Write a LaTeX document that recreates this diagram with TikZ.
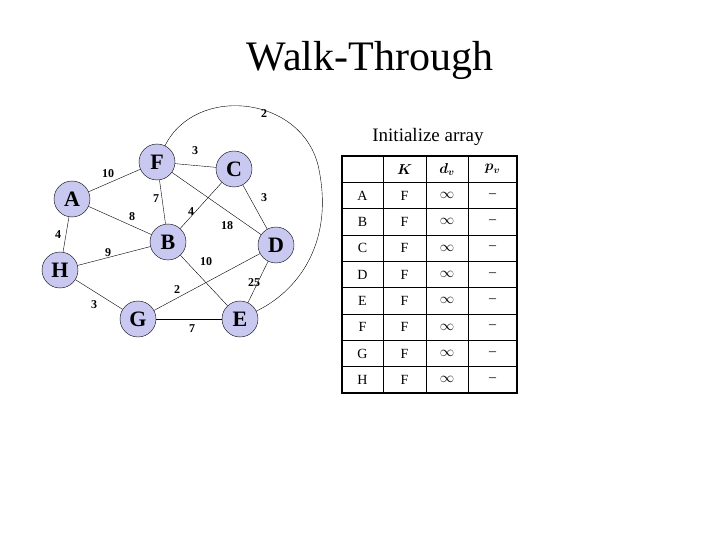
\documentclass[tikz,border=0pt]{standalone}
\usepackage{fontspec}
\setmainfont{Liberation Serif}
\usepackage{amsmath}
\definecolor{vfill}{RGB}{200,200,240}
\tikzset{
  vert/.style={circle,draw,fill=vfill,minimum size=36pt,inner sep=0pt,font=\fontsize{22}{24}\selectfont\bfseries},
  wt/.style={inner sep=0.75pt,font=\fontsize{12}{14}\selectfont\bfseries},
  cell/.style={inner sep=0pt,font=\fontsize{14}{16}\selectfont}
}
\begin{document}
\begin{tikzpicture}[x=1pt,y=1pt,yscale=-1,xscale=1]
\useasboundingbox (0,0) rectangle (720,540);

% Title
\node (title) at (370,60) {\fontsize{42}{48}\selectfont Walk-Through};

% Vertices
\node[vert] (F) at (157,162) {F};
\node[vert] (C) at (234,169) {C};
\node[vert] (A) at (72,199) {A};
\node[vert] (B) at (168,242) {B};
\node[vert] (D) at (276,245) {D};
\node[vert] (H) at (60,270) {H};
\node[vert] (G) at (138,319) {G};
\node[vert] (E) at (240,319) {E};

% Edges
\draw (A) -- (F);
\draw (A) -- (B);
\draw (A) -- (H);
\draw (F) -- (C);
\draw (F) -- (B);
\draw (F) -- (D);
\draw (C) -- (B);
\draw (C) -- (D);
\draw (H) -- (B);
\draw (B) -- (E);
\draw (H) -- (G);
\draw (G) -- (D);
\draw (G) -- (E);
\draw (D) -- (E);
\draw (F) .. controls (195,85) and (300,95) .. (318,165) .. controls (335,240) and (300,290) .. (E);

% Weights
\node[wt] at (108,174) {10};
\node[wt] at (132,217) {8};
\node[wt] at (58,235) {4};
\node[wt] at (195,151) {3};
\node[wt] at (156,199) {7};
\node[wt] at (191,212) {4};
\node[wt] at (227,226) {18};
\node[wt] at (264,198) {3};
\node[wt] at (108,253) {9};
\node[wt] at (206,262) {10};
\node[wt] at (177,290) {2};
\node[wt] at (254,283) {25};
\node[wt] at (94,305) {3};
\node[wt] at (192,329) {7};
\node[wt] at (264,114) {2};

% Table
\node (cap) at (428,137) {\fontsize{19}{22}\selectfont Initialize array};
\draw (342,156) grid[xstep=1,ystep=1] (342,156);
\foreach \x in {383,426,468} \draw (\x,156) -- (\x,393);
\foreach \i in {1,...,8} \draw (342,156+26.33*\i) -- (517,156+26.33*\i);
\draw[line width=2pt] (342,156) rectangle (517,393);
\node[cell] at (404.5,169.2) {$\boldsymbol{K}$};
\node[cell] at (447,169.2) {$\boldsymbol{d_v}$};
\node[cell] at (492.5,169.2) {$\boldsymbol{p_v}$};
\foreach \n [count=\i] in {A,B,C,D,E,F,G,H} {
  \node[cell] at (362.5,169.2+26.33*\i) {\n};
  \node[cell] at (404.5,169.2+26.33*\i) {F};
  \node[cell] at (447,169.2+26.33*\i) {$\infty$};
  \node[cell] at (492.5,169.2+26.33*\i) {--};
}
\end{tikzpicture}
\end{document}
